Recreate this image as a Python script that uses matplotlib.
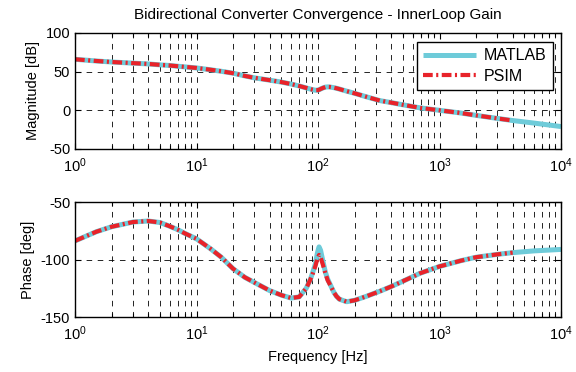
import matplotlib
matplotlib.use("Agg")
import matplotlib.pyplot as plt
from matplotlib.ticker import LogLocator, FixedLocator, NullFormatter

plt.rcParams['font.family'] = ['Liberation Sans', 'DejaVu Sans']
plt.rcParams['mathtext.fontset'] = 'custom'
plt.rcParams['mathtext.rm'] = 'Liberation Sans'
plt.rcParams['lines.scale_dashes'] = False
plt.rcParams['axes.unicode_minus'] = False

# Frequency response of the inner current loop (Hz, dB, deg)
freq_matlab = [1, 1.5, 2, 3, 4, 5, 6, 7, 8, 10, 13, 16, 20, 25, 30, 40, 50, 60, 70,
               80, 86, 90, 95, 99, 102, 105, 110, 115, 120, 125, 135, 142, 150, 172,
               200, 250, 324, 400, 474, 690, 1000, 1500, 2000, 3000, 4000, 6000, 10000]
mag_matlab = [66, 63.8, 62.5, 61, 60, 58.8, 58, 57, 56.2, 54.8, 52.5, 50.5, 48, 44.5, 42,
              39, 36.5, 34, 31.5, 29, 27.6, 26.8, 26, 26.1, 26.6, 27.6, 29, 30, 30.3, 30.2,
              29.3, 28.5, 27.5, 24.8, 22, 17.5, 12.5, 10, 7.8, 3.2, 0, -3.5, -6.5, -10.5,
              -13.2, -16.5, -21]
phase_matlab = [-83.8, -75.8, -71.5, -67.4, -66.5, -67.8, -71, -74, -77.2, -82, -90.5, -98,
                -108, -115.5, -120, -127, -131, -133.5, -132.5, -125, -118, -112, -104,
                -94, -89, -92, -102, -111, -117, -121, -128.5, -132, -134.5, -136.7,
                -135.5, -132, -127.5, -123.5, -120, -112, -106, -101, -98, -95.5, -94,
                -92.5, -91.2]

freq_psim = [1, 1.5, 2, 3, 4, 5, 6, 7, 8, 10, 13, 16, 20, 25, 30, 40, 50, 60, 70,
             80, 86, 90, 95, 99, 102, 105, 110, 115, 120, 125, 135, 142, 150, 172,
             200, 250, 324, 400, 474, 690, 1000, 1500, 2000, 3000, 4000]
mag_psim = [66, 63.8, 62.5, 61, 60, 58.8, 58, 57, 56.2, 54.8, 52.5, 50.5, 48, 44.5, 42,
            39, 36.5, 34, 31.5, 29, 27.6, 26.8, 26, 26.1, 26.6, 27.6, 29, 30, 30.3, 30.2,
            29.3, 28.5, 27.5, 24.8, 22, 17.5, 12.5, 10, 7.8, 3.2, 0, -3.5, -6.5, -10.5,
            -13.2]
phase_psim = [-83.8, -75.8, -71.5, -67.4, -66.5, -67.8, -71, -74, -77.2, -82, -90.5, -98,
              -108, -115.5, -120, -127, -131, -133.5, -132.5, -125, -118, -113, -106,
              -99, -96, -98, -105, -112, -118, -121.5, -128.5, -132, -134.5, -136.7,
              -135.5, -132, -127.5, -123.5, -120, -112, -106, -101, -98, -95.5, -94]

mag_ticks = [-50, 0, 50, 100]
phase_ticks = [-150, -100, -50]

matlab_color = '#6ECBD9'
psim_color = '#E8232A'
psim_style = (0, (7, 2.5, 1.5, 2.5))

fig = plt.figure(figsize=(5.76, 3.72), dpi=100)
ax_mag = fig.add_axes([0.1302, 0.5995, 0.8438, 0.3118])
ax_ph = fig.add_axes([0.1302, 0.1478, 0.8438, 0.3091])

for ax in (ax_mag, ax_ph):
    ax.set_xscale('log')
    ax.set_xlim(1, 1e4)
    ax.xaxis.set_major_locator(LogLocator(base=10, numticks=10))
    ax.xaxis.set_minor_locator(LogLocator(base=10, subs=range(2, 10), numticks=20))
    ax.xaxis.set_minor_formatter(NullFormatter())
    ax.tick_params(which='both', direction='in', top=True, right=True,
                   labelsize=10.5, width=0.8, colors='black')
    ax.tick_params(axis='x', which='major', pad=5)
    ax.tick_params(which='major', length=4)
    ax.tick_params(which='minor', length=3)
    ax.grid(True, which='major', color='black', linestyle=(0, (4, 4)), linewidth=0.6)
    ax.grid(True, which='minor', axis='x', color='black', linestyle=(0, (4, 4)), linewidth=0.6)
    for sp in ax.spines.values():
        sp.set_linewidth(1.0)
    ax.set_axisbelow(True)

ax_mag.plot(freq_matlab, mag_matlab, color=matlab_color, linewidth=3.6,
            solid_capstyle='butt', label='MATLAB')
ax_mag.plot(freq_psim, mag_psim, color=psim_color, linewidth=3.0,
            linestyle=psim_style, label='PSIM')
ax_mag.set_ylim(-50, 100)
ax_mag.yaxis.set_major_locator(FixedLocator(mag_ticks))
ax_mag.set_ylabel('Magnitude [dB]', fontsize=10.5)
ax_mag.set_title('Bidirectional Converter Convergence - InnerLoop Gain', fontsize=11, pad=10)

leg = ax_mag.legend(loc='upper right', bbox_to_anchor=(0.9835, 0.922), borderaxespad=0,
                    fontsize=11.5, handlelength=3.3, frameon=True, fancybox=False,
                    edgecolor='black', framealpha=1, borderpad=0.4, labelspacing=0.35,
                    handletextpad=0.5)
leg.get_frame().set_linewidth(1.0)

ax_ph.plot(freq_matlab, phase_matlab, color=matlab_color, linewidth=3.6,
           solid_capstyle='butt')
ax_ph.plot(freq_psim, phase_psim, color=psim_color, linewidth=3.0,
           linestyle=psim_style)
ax_ph.set_ylim(-150, -50)
ax_ph.yaxis.set_major_locator(FixedLocator(phase_ticks))
ax_ph.set_ylabel('Phase [deg]', fontsize=10.5)
ax_ph.set_xlabel('Frequency [Hz]', fontsize=10.5, labelpad=5)

fig.savefig('out.png', dpi=100)
